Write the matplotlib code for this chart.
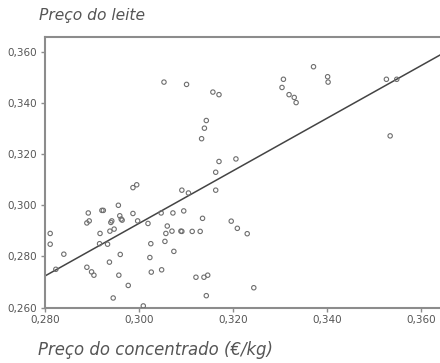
import numpy as np
import matplotlib
matplotlib.use("Agg")
import matplotlib.pyplot as plt
from matplotlib.ticker import FuncFormatter

# ── Dados ────────────────────────────────────────────────────────────────────
preco_concentrado = [
    0.2987, 0.2995, 0.3091, 0.2956, 0.2892, 0.2921, 0.2924, 0.2959, 0.2987, 0.3047,
    0.3072, 0.2889, 0.2894, 0.2940, 0.2942, 0.2962, 0.2964, 0.2997, 0.3019, 0.3060,
    0.3057, 0.3070, 0.3091, 0.3089, 0.2811, 0.2917, 0.2938, 0.2947, 0.2811, 0.2916,
    0.2933, 0.2840, 0.2960, 0.3025, 0.3055, 0.3074, 0.3023, 0.2823, 0.2889, 0.2899,
    0.2904, 0.2937, 0.2957, 0.3026, 0.3048, 0.2977, 0.2945, 0.3009, 0.3163, 0.3105,
    0.3163, 0.3095, 0.3135, 0.3196, 0.3209, 0.3230, 0.3113, 0.3130, 0.3121, 0.3138,
    0.3146, 0.3143, 0.3244, 0.3053, 0.3101, 0.3157, 0.3170, 0.3143, 0.3139, 0.3133,
    0.3170, 0.3206, 0.3307, 0.3304, 0.3371, 0.3319, 0.3330, 0.3334, 0.3401, 0.3402,
    0.3526, 0.3548, 0.3534,
]
preco_leite = [
    0.3069, 0.3080, 0.3059, 0.3000, 0.2970, 0.2980, 0.2980, 0.2959, 0.2968, 0.2970,
    0.2970, 0.2931, 0.2939, 0.2933, 0.2939, 0.2946, 0.2942, 0.2939, 0.2929, 0.2919,
    0.2890, 0.2899, 0.2898, 0.2899, 0.2890, 0.2890, 0.2899, 0.2907, 0.2848, 0.2850,
    0.2848, 0.2809, 0.2808, 0.2850, 0.2859, 0.2820, 0.2796, 0.2750, 0.2758, 0.2740,
    0.2727, 0.2778, 0.2727, 0.2739, 0.2748, 0.2687, 0.2638, 0.2607, 0.3129, 0.3048,
    0.3059, 0.2978, 0.2949, 0.2938, 0.2910, 0.2889, 0.2898, 0.2898, 0.2719, 0.2719,
    0.2727, 0.2647, 0.2678, 0.3481, 0.3472, 0.3442, 0.3432, 0.3331, 0.3301, 0.3260,
    0.3171, 0.3181, 0.3492, 0.3460, 0.3541, 0.3432, 0.3421, 0.3401, 0.3502, 0.3481,
    0.3492, 0.3492, 0.3271,
]

# Reta de regressão: leite = a + b * concentrado
reta_a = -0.01516
reta_b = 1.027

x_ticks = [0.280, 0.300, 0.320, 0.340, 0.360]
y_ticks = [0.260, 0.280, 0.300, 0.320, 0.340, 0.360]

GRAY_AXIS = "#8c8c8c"
GRAY_TEXT = "#555555"
GRAY_MARK = "#6e6e6e"

# ── Figura ──────────────────────────────────────────────────────────────────
fig = plt.figure(figsize=(4.4, 3.63), dpi=100)
ax = fig.add_axes([0.1023, 0.1523, 0.8977, 0.745])

ax.scatter(preco_concentrado, preco_leite, s=10, facecolors="none",
           edgecolors=GRAY_MARK, linewidths=0.8, zorder=3)

xlim = (0.280, 0.364)
xs = np.array(xlim)
ax.plot(xs, reta_a + reta_b * xs, color="#444444", lw=1.1, zorder=2)

ax.set_xlim(*xlim)
ax.set_ylim(0.260, 0.3656)
ax.set_xticks(x_ticks)
ax.set_yticks(y_ticks)

fmt = FuncFormatter(lambda v, _: f"{v:.3f}".replace(".", ","))
ax.xaxis.set_major_formatter(fmt)
ax.yaxis.set_major_formatter(fmt)

for side in ["top", "left", "bottom"]:
    ax.spines[side].set_color(GRAY_AXIS)
    ax.spines[side].set_linewidth(1.5)
ax.spines["right"].set_visible(False)

ax.tick_params(direction="out", length=3, width=1, color=GRAY_AXIS,
               labelcolor=GRAY_TEXT, labelsize=7.5, pad=2.5)

fig.text(0.088, 0.958, "Preço do leite", style="italic", fontsize=11.2,
         color=GRAY_TEXT, ha="left", va="center")
fig.text(0.086, 0.036, "Preço do concentrado (€/kg)", style="italic",
         fontsize=11.9, color=GRAY_TEXT, ha="left", va="center")

fig.savefig("out.png", dpi=100, facecolor="white")
plt.close(fig)
